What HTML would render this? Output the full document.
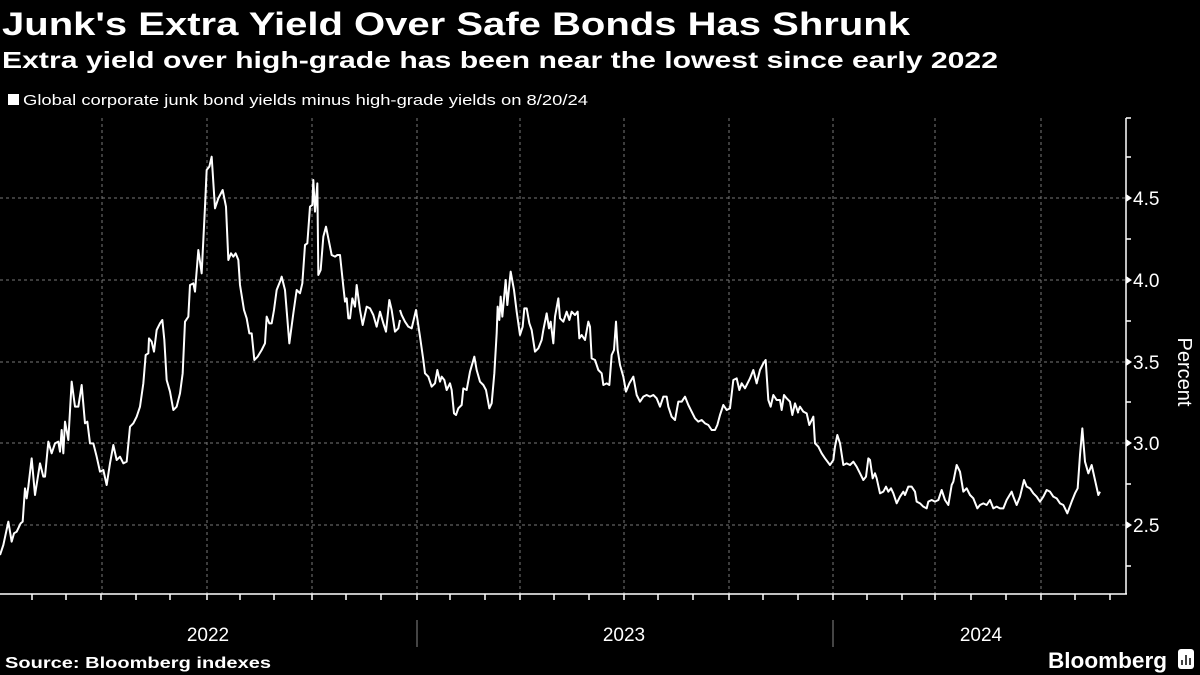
<!DOCTYPE html>
<html><head><meta charset="utf-8"><style>
html,body{margin:0;padding:0;background:#000;width:1200px;height:675px;overflow:hidden}
svg{display:block;font-family:"Liberation Sans",sans-serif}
</style></head><body>
<svg width="1200" height="675" viewBox="0 0 1200 675">
<rect width="1200" height="675" fill="#000"/>
<text x="2" y="35" fill="#fff" font-size="32" font-weight="bold" textLength="908" lengthAdjust="spacingAndGlyphs">Junk's Extra Yield Over Safe Bonds Has Shrunk</text>
<text x="2" y="68" fill="#fff" font-size="23" font-weight="bold" textLength="996" lengthAdjust="spacingAndGlyphs">Extra yield over high-grade has been near the lowest since early 2022</text>
<rect x="8" y="94" width="11" height="11" fill="#fff"/>
<text x="23" y="105" fill="#fff" font-size="15" textLength="565" lengthAdjust="spacingAndGlyphs">Global corporate junk bond yields minus high-grade yields on 8/20/24</text>
<g stroke="#777" stroke-width="1" stroke-dasharray="3,3">
<line x1="0" y1="198" x2="1126" y2="198"/><line x1="0" y1="280" x2="1126" y2="280"/><line x1="0" y1="362" x2="1126" y2="362"/><line x1="0" y1="443" x2="1126" y2="443"/><line x1="0" y1="525" x2="1126" y2="525"/>
<line x1="102" y1="118" x2="102" y2="594"/><line x1="207" y1="118" x2="207" y2="594"/><line x1="312" y1="118" x2="312" y2="594"/><line x1="417" y1="118" x2="417" y2="594"/><line x1="520" y1="118" x2="520" y2="594"/><line x1="624" y1="118" x2="624" y2="594"/><line x1="729" y1="118" x2="729" y2="594"/><line x1="833" y1="118" x2="833" y2="594"/><line x1="935" y1="118" x2="935" y2="594"/><line x1="1041" y1="118" x2="1041" y2="594"/>
</g>
<g stroke="#fff" stroke-width="1.5" fill="none">
<line x1="0" y1="594" x2="1127" y2="594"/><line x1="1126" y1="118" x2="1126" y2="594"/>
<path d="M1126 118h5M1126 157h5M1126 239h5M1126 321h5M1126 402h5M1126 484h5M1126 566h5"/>
<path d="M32 594v6M66 594v6M101 594v6M136 594v6M170 594v6M207 594v6M240 594v6M274 594v6M312 594v6M346 594v6M381 594v6M417 594v6M450 594v6M485 594v6M520 594v6M554 594v6M589 594v6M624 594v6M658 594v6M693 594v6M729 594v6M763 594v6M798 594v6M833 594v6M867 594v6M902 594v6M935 594v6M971 594v6M1006 594v6M1041 594v6M1075 594v6M1110 594v6"/>
</g>
<g fill="#fff"><path d="M1126 194l6 4-6 4zM1126 276l6 4-6 4zM1126 358l6 4-6 4zM1126 439l6 4-6 4zM1126 521l6 4-6 4z"/></g>
<g fill="#fff" font-size="19">
<text x="1133" y="205">4.5</text><text x="1133" y="287">4.0</text><text x="1133" y="369">3.5</text><text x="1133" y="450">3.0</text><text x="1133" y="532">2.5</text>
</g>
<text transform="translate(1178,372) rotate(90)" fill="#fff" font-size="20" text-anchor="middle">Percent</text>
<g stroke="#888" stroke-width="1"><line x1="417" y1="620" x2="417" y2="647"/><line x1="833" y1="620" x2="833" y2="647"/></g>
<g fill="#fff" font-size="19" text-anchor="middle"><text x="208" y="641">2022</text><text x="624" y="641">2023</text><text x="981" y="641">2024</text></g>
<text x="5" y="668" fill="#fff" font-size="16" font-weight="bold" textLength="266" lengthAdjust="spacingAndGlyphs">Source: Bloomberg indexes</text>
<text x="1048" y="668" fill="#fff" font-size="22" font-weight="bold" textLength="119" lengthAdjust="spacingAndGlyphs">Bloomberg</text>
<rect x="1178" y="649" width="16" height="20" rx="3" fill="#fff"/>
<g stroke="#000" stroke-width="1.5"><line x1="1182" y1="665" x2="1182" y2="660"/><line x1="1186" y1="665" x2="1186" y2="655"/><line x1="1190" y1="665" x2="1190" y2="658"/></g>
<g fill="none" stroke="#fff" stroke-width="2" stroke-linejoin="round">
<g transform="translate(0,140) scale(0.3333333)"><polyline vector-effect="non-scaling-stroke" points="0,1245 10,1215 25,1145 35,1205 42,1180 50,1175 62,1150 68,1145 75,1045 80,1075 85,1040 95,955 105,1065 120,970 130,1010 135,1010 145,905 155,940 165,910 175,905 180,935 185,870 190,940 195,845 205,900 215,725 225,800 235,800 245,735 255,850 262,845 270,910 280,910 290,950 300,995 310,990 320,1035 330,970 340,915 350,960 360,950 370,970 380,965 390,860 400,850 410,830 420,800 430,730 437,645 445,640 447,595 455,605 462,635 470,570 480,550 487,540 493,600 500,720 510,755 520,810 530,800 540,760 548,700 555,545 565,530 570,435 580,430 585,455 595,330 605,400 615,200 620,90 628,80 635,50 645,205 655,175 668,150 678,200 685,360 693,340 700,350 707,340 715,360 720,435 732,510 740,535 748,580 755,580 763,660 773,650 785,630 795,610 800,530 808,550 815,550 822,510 830,450 840,425 845,410 855,450 868,610 880,520 890,450 900,460 907,430 915,315 922,310 930,200 937,195 940,120 945,215 952,130 955,405 962,390 970,290 978,260 985,295 995,345 1005,350 1012,345 1020,345 1030,440 1035,485 1040,475 1045,535 1050,535 1057,475 1065,500 1070,435 1080,510 1088,555 1100,500 1110,505 1120,525 1130,560 1140,515 1150,550 1158,575 1168,480 1175,510 1185,575 1195,565 1200,540"/></g>
<g transform="translate(380,250) scale(0.3333333)"><polyline vector-effect="non-scaling-stroke" points="60,180 65,195 75,215 85,230 95,235 108,180 120,260 130,330 135,370 145,380 155,410 165,400 172,360 180,395 185,380 193,390 200,420 210,400 215,420 222,490 228,495 235,475 245,465 250,415 260,420 270,365 283,320 290,360 300,395 310,405 318,420 328,475 335,460 343,370 350,250 353,170 358,210 362,140 367,200 377,90 382,165 392,65 402,120 410,185 420,255 428,230 433,175 440,175 448,220 455,240 465,305 475,295 485,270 490,240 500,190 507,235 512,215 520,280 525,200 535,145 540,205 550,215 560,185 568,210 575,185 585,195 593,185 598,265 605,255 615,270 625,215 630,230 635,325 645,330 655,360 665,370 670,405 680,400 688,405 695,315 702,300 708,215 713,300 720,345 730,380 738,425 748,400 760,380 770,435 780,455 790,440 800,435 810,440 820,435 830,445 840,470 850,440 860,440 865,470 875,500 885,510 895,455 905,455 915,440 925,465 935,485 945,505 955,515 965,510 975,520 985,525 995,540 1005,540 1012,525 1020,495 1030,465 1040,480 1050,475 1060,390 1070,385 1078,420 1085,400 1095,415 1100,405 1110,385 1120,360 1130,400 1140,360 1150,340 1157,330 1165,450 1172,470 1180,435 1190,450 1200,450 1205,480 1212,435 1220,445 1230,455 1237,495 1245,460 1255,490"/></g>
<g transform="translate(780,340) scale(0.3333333)"><polyline vector-effect="non-scaling-stroke" points="54,215 60,200 70,215 80,220 88,255 100,230 105,310 115,320 125,340 135,355 150,375 160,360 165,320 172,285 180,310 190,375 200,370 210,375 220,365 230,380 240,400 250,420 258,410 265,355 270,360 278,415 285,400 290,415 300,460 310,455 318,440 325,455 333,445 340,460 350,490 360,470 370,455 375,465 385,440 395,440 405,455 410,485 420,490 430,500 440,505 445,485 455,480 465,485 475,480 485,450 495,480 505,495 515,435 520,425 530,375 540,395 550,455 560,445 570,465 580,475 592,505 600,495 610,490 620,495 630,480 640,505 650,500 660,505 670,505 680,480 695,455 700,470 710,495 720,470 732,420 740,440 750,445 760,460 770,470 780,485 790,470 800,450 810,455 820,470 830,475 840,490 850,495 862,520 875,485 885,460 893,445 900,345 907,265 915,365 925,400 935,375 945,420 955,465 960,455"/></g>
</g>
</svg>
</body></html>
